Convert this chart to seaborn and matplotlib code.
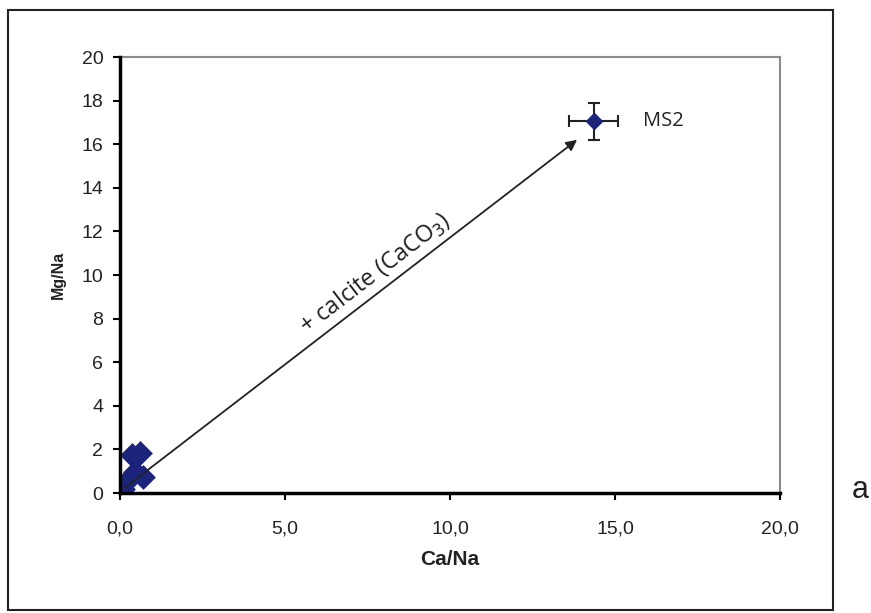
import numpy as np
import pandas as pd
import seaborn as sns
import matplotlib.pyplot as plt
from matplotlib.patches import Rectangle

# samples near origin
ca_na = [0.0, 0.1, 0.3, 0.45, 0.7, 0.35, 0.6]
mg_na = [0.0, 0.2, 0.7, 0.95, 0.75, 1.75, 1.85]

# MS2 sample with error bars
ms2_ca, ms2_mg = 14.35, 17.05
ms2_xerr, ms2_yerr = 0.75, 0.85

# arrow from origin cluster towards MS2
arrow_start = (0.15, 0.25)
arrow_end = (13.85, 16.2)

xticks = [0, 5, 10, 15, 20]
yticks = [0, 2, 4, 6, 8, 10, 12, 14, 16, 18, 20]

sns.set_theme(style="white")
plt.rcParams['font.family'] = ['Liberation Sans', 'DejaVu Sans']

df = pd.DataFrame({"Ca/Na": ca_na, "Mg/Na": mg_na})
navy = "#1c237a"
ink = "#222222"

fig = plt.figure(figsize=(8.71, 6.13), dpi=100)
ax = fig.add_axes([120 / 871, 1 - 493 / 613, 660 / 871, 436 / 613])

sns.scatterplot(data=df, x="Ca/Na", y="Mg/Na", ax=ax, marker="D", s=160,
                color=navy, edgecolor=navy, linewidth=0, zorder=3)

ax.errorbar(ms2_ca, ms2_mg, xerr=ms2_xerr, yerr=ms2_yerr, fmt="D", ms=8,
            color=navy, ecolor=ink, elinewidth=1.5, capsize=4,
            capthick=1.5, zorder=4)
ax.text(ms2_ca + 1.5, ms2_mg, "MS2", fontsize=14.5, family=['Open Sans', 'DejaVu Sans'],
        va="center", ha="left", color=ink)

ax.annotate("", xy=arrow_end, xytext=arrow_start,
            arrowprops=dict(arrowstyle="-|>", color=ink, lw=1.3,
                            mutation_scale=16, shrinkA=0, shrinkB=0))
ax.text(7.75, 10.05, "+ calcite (CaCO$_3$)", fontsize=17, rotation=37.6,
        family=['Open Sans', 'DejaVu Sans'], ha="center", va="center",
        rotation_mode="anchor", color=ink)

ax.set_xlim(0, 20)
ax.set_ylim(0, 20)
ax.set_xticks(xticks)
ax.set_xticklabels([f"{v:.1f}".replace(".", ",") for v in xticks])
ax.set_yticks(yticks)
ax.tick_params(axis="both", which="both", length=5, width=1.5, color="black",
               direction="out", labelsize=14, labelcolor=ink, pad=7)
ax.tick_params(axis="x", bottom=True, pad=15)
ax.tick_params(axis="y", left=True)

ax.set_xlabel("Ca/Na", fontsize=15, fontweight="bold", labelpad=9, color=ink)
ax.set_ylabel("Mg/Na", fontsize=11.5, fontweight="bold", labelpad=11, color=ink)

for side in ["left", "bottom"]:
    ax.spines[side].set_color("black")
    ax.spines[side].set_linewidth(2.5)
for side in ["top", "right"]:
    ax.spines[side].set_color("#8a8a8a")
    ax.spines[side].set_linewidth(1.5)
ax.spines["left"].set_zorder(5)
ax.spines["bottom"].set_zorder(5)

# outer frame
fig.patches.append(Rectangle((8 / 871, 3 / 613), 825 / 871, 600 / 613,
                             transform=fig.transFigure, fill=False,
                             edgecolor=ink, linewidth=1.5))
fig.text(860 / 871, 1 - 490 / 613, "a", fontsize=22, ha="center", va="center",
         color=ink)

fig.savefig("out.png", dpi=100)
